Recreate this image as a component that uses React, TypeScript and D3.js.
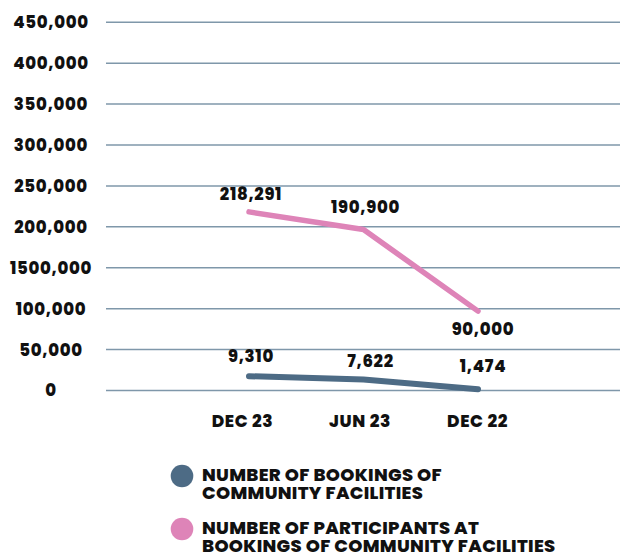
import * as d3 from "d3";

// categories along the x axis
const periods = ["DEC 23", "JUN 23", "DEC 22"];

// y axis ticks and their printed labels (the original prints "1500,000" for 150,000)
const yTicks = [0, 50000, 100000, 150000, 200000, 250000, 300000, 350000, 400000, 450000];
const yTickLabels = ["0", "50,000", "100,000", "1500,000", "200,000", "250,000", "300,000", "350,000", "400,000", "450,000"];

// plotted values as drawn in the picture
const bookings = [17500, 13500, 1500];
const participants = [218291, 196700, 97000];

// printed data labels
const bookingsLabels = ["9,310", "7,622", "1,474"];
const participantsLabels = ["218,291", "190,900", "90,000"];

const legendItems = [
  { color: "#4d6b85", lines: ["NUMBER OF BOOKINGS OF", "COMMUNITY FACILITIES"] },
  { color: "#de84b8", lines: ["NUMBER OF PARTICIPANTS AT", "BOOKINGS OF COMMUNITY FACILITIES"] },
];

const W = 620;
const H = 554;
const FONT = "Poppins, Inter, 'Noto Sans', sans-serif";

export default function App() {
  const x = d3.scalePoint<string>().domain(periods).range([249, 478]);
  const y = d3.scaleLinear().domain([0, 450000]).range([390.5, 22.3]);

  const line = d3
    .line<number>()
    .x((_, i) => x(periods[i]) as number)
    .y((d) => y(d));

  // label offsets from each point (px), picked to match the picture
  const pinkDy = [-12, -17, 24];
  const pinkDx = [2, 2, 5];
  const slateDy = [-14, -12, -17];
  const slateDx = [2, 7, 5];
  const xLabelDx = [-6.5, -3.5, -0.5];

  const numStyle = { fontSize: 16.5, letterSpacing: 0.7 };

  return (
    <svg
      width={W}
      height={H}
      style={{ position: "absolute", left: 0, top: 0, background: "#fff" }}
      fontFamily={FONT}
      fontWeight={800}
    >
      {/* grid + y labels */}
      {yTicks.map((t, i) => (
        <g key={t}>
          <line x1={106} x2={W} y1={y(t)} y2={y(t)} stroke="#7f97aa" strokeWidth={1.5} />
          <text x={51} y={y(t)} dy="0.36em" textAnchor="middle" style={numStyle} fill="#111">
            {yTickLabels[i]}
          </text>
        </g>
      ))}

      {/* lines */}
      <path d={line(participants) ?? ""} fill="none" stroke="#de84b8" strokeWidth={5.5} strokeLinecap="round" strokeLinejoin="round" />
      <path d={line(bookings) ?? ""} fill="none" stroke="#4d6b85" strokeWidth={6} strokeLinecap="round" strokeLinejoin="round" />

      {/* data labels */}
      {participants.map((v, i) => (
        <text key={"p" + i} x={(x(periods[i]) as number) + pinkDx[i]} y={y(v) + pinkDy[i]} textAnchor="middle" style={numStyle} fill="#111">
          {participantsLabels[i]}
        </text>
      ))}
      {bookings.map((v, i) => (
        <text key={"b" + i} x={(x(periods[i]) as number) + slateDx[i]} y={y(v) + slateDy[i]} textAnchor="middle" style={numStyle} fill="#111">
          {bookingsLabels[i]}
        </text>
      ))}

      {/* x labels */}
      {periods.map((p, i) => (
        <text key={p} x={(x(p) as number) + xLabelDx[i]} y={427} textAnchor="middle" style={{ fontSize: 17, letterSpacing: 0.6 }} fill="#111">
          {p}
        </text>
      ))}

      {/* legend */}
      {legendItems.map((item, i) => (
        <g key={i} transform={`translate(182, ${476 + i * 53})`}>
          <circle r={11.3} fill={item.color} />
          {item.lines.map((l, j) => (
            <text key={j} x={20} y={5 + j * 18} style={{ fontSize: 18, letterSpacing: 0.3 }} fill="#111">
              {l}
            </text>
          ))}
        </g>
      ))}
    </svg>
  );
}
